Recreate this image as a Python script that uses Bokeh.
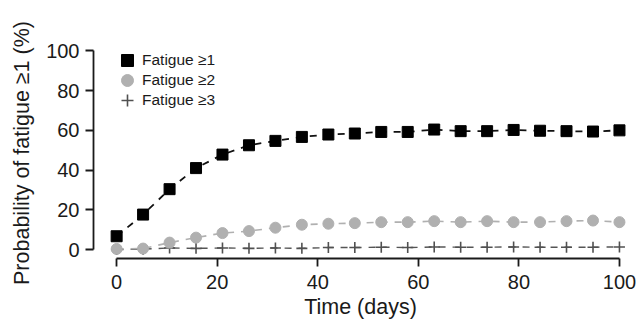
from bokeh.plotting import figure
from bokeh.models import Range1d, Legend, LegendItem, FixedTicker
from bokeh.embed import file_html
from bokeh.resources import INLINE

days = [0, 5.26, 10.53, 15.79, 21.05, 26.32, 31.58, 36.84, 42.11, 47.37,
        52.63, 57.89, 63.16, 68.42, 73.68, 78.95, 84.21, 89.47, 94.74, 100]
fatigue1 = [6.7, 17.6, 30.4, 41, 47.8, 52.5, 54.7, 56.7, 57.9, 58.4,
            59.2, 59.2, 60.4, 59.6, 59.6, 60.2, 59.8, 59.6, 59.4, 60]
fatigue2 = [0.3, 0.5, 3.5, 6, 8.3, 9.3, 11, 12.5, 13, 13.3,
            13.8, 13.8, 14.3, 13.8, 14.3, 13.8, 13.8, 14.3, 14.6, 13.8]
fatigue3 = [0, 0.2, 0.8, 0.6, 0.8, 0.6, 0.8, 0.6, 1, 1,
            1.2, 1, 1.3, 1.2, 1.2, 1.3, 1.2, 1.2, 1.2, 1.3]
labels = ["Fatigue \u22651", "Fatigue \u22652", "Fatigue \u22653"]
ticks = [0, 20, 40, 60, 80, 100]

FONT = "Liberation Sans"
TXT = "#1a1a1a"

p = figure(width=639, height=321, output_backend="svg", toolbar_location=None,
           x_range=Range1d(-4.6, 101.6), y_range=Range1d(-4.5, 101.7),
           min_border_left=93, min_border_right=12, min_border_top=47, min_border_bottom=63)
p.outline_line_color = None
p.grid.visible = False
p.background_fill_color = "white"

for ax in (p.xaxis[0], p.yaxis[0]):
    ax.bounds = (0, 100)
    ax.ticker = FixedTicker(ticks=ticks)
    ax.minor_tick_line_color = None
    ax.major_tick_out = 8
    ax.major_tick_in = 0
    ax.axis_line_width = 1.8
    ax.major_tick_line_width = 1.8
    ax.axis_line_color = TXT
    ax.major_tick_line_color = TXT
    ax.major_label_text_font = FONT
    ax.major_label_text_font_size = "20px"
    ax.major_label_text_color = TXT
    ax.axis_label_text_font = FONT
    ax.axis_label_text_font_size = "21.5px"
    ax.axis_label_text_font_style = "normal"
    ax.axis_label_text_color = TXT

p.xaxis.axis_label = "Time (days)"
p.yaxis.axis_label = "Probability of fatigue \u22651 (%)"
p.xaxis.major_label_standoff = 8
p.yaxis.major_label_standoff = 6
p.xaxis.axis_label_standoff = 3
p.yaxis.axis_label_standoff = 9

p.line(days, fatigue3, line_color="#555555", line_width=1.4, line_dash="7 7")
p.line(days, fatigue2, line_color="#b0b0b0", line_width=1.6, line_dash="7 7")
p.line(days, fatigue1, line_color="#111111", line_width=1.8, line_dash="7 7")

r3 = p.scatter(days, fatigue3, marker="cross", size=11, line_color="#505050", line_width=1.6)
r2 = p.scatter(days, fatigue2, marker="circle", size=11, fill_color="#b0b0b0", line_color="#b0b0b0")
r1 = p.scatter(days, fatigue1, marker="square", size=11, fill_color="#000000", line_color="#000000")

# one legend per entry so the rows can sit closer than the glyph box
for i, (lab, r) in enumerate(zip(labels, [r1, r2, r3])):
    lg = Legend(items=[LegendItem(label=lab, renderers=[r])], location=(19, 183 - 20 * i))
    lg.border_line_color = None
    lg.background_fill_alpha = 0
    lg.label_text_font = FONT
    lg.label_text_font_size = "15.5px"
    lg.label_text_color = TXT
    lg.glyph_width = 30
    lg.glyph_height = 30
    lg.padding = 0
    lg.margin = 0
    lg.label_standoff = 0
    p.add_layout(lg)

open("out.html", "w").write(file_html(p, INLINE))
